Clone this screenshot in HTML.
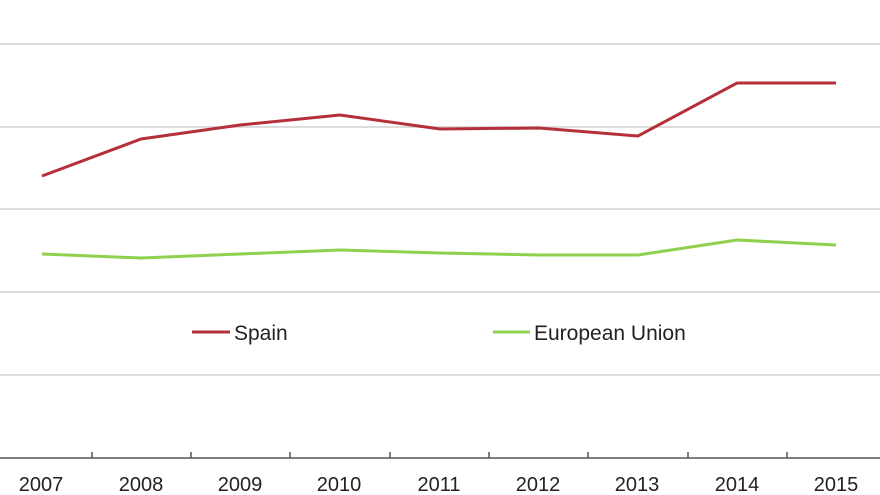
<!DOCTYPE html>
<html><head><style>body{margin:0;background:#fff}svg{display:block}</style></head><body>
<svg width="880" height="495" xmlns="http://www.w3.org/2000/svg" font-family="Liberation Sans, sans-serif">
<g stroke="#dcdcdc" stroke-width="2">
<line x1="0" y1="44" x2="880" y2="44"/><line x1="0" y1="127" x2="880" y2="127"/>
<line x1="0" y1="209" x2="880" y2="209"/><line x1="0" y1="292" x2="880" y2="292"/>
<line x1="0" y1="375" x2="880" y2="375"/></g>
<line x1="0" y1="458" x2="880" y2="458" stroke="#555" stroke-width="1.5"/>
<g stroke="#555" stroke-width="1.5">
<line x1="92" y1="452" x2="92" y2="458"/><line x1="191" y1="452" x2="191" y2="458"/><line x1="290" y1="452" x2="290" y2="458"/><line x1="390" y1="452" x2="390" y2="458"/><line x1="489" y1="452" x2="489" y2="458"/><line x1="588" y1="452" x2="588" y2="458"/><line x1="688" y1="452" x2="688" y2="458"/><line x1="787" y1="452" x2="787" y2="458"/></g>
<g font-size="20" fill="#222" text-anchor="middle">
<text x="41" y="491">2007</text><text x="141" y="491">2008</text><text x="240" y="491">2009</text><text x="339" y="491">2010</text><text x="439" y="491">2011</text><text x="538" y="491">2012</text><text x="637" y="491">2013</text><text x="737" y="491">2014</text><text x="836" y="491">2015</text></g>
<polyline fill="none" stroke="#b5303a" stroke-width="3" points="42,176 141,139 240,125 340,115 440,129 539,128 638,136 737,83 836,83"/>
<polyline fill="none" stroke="#8fd14f" stroke-width="3" points="42,254 141,258 240,254 340,250 440,253 539,255 638,255 737,240 836,245"/>
<line x1="192" y1="332" x2="230" y2="332" stroke="#b5303a" stroke-width="3"/>
<text x="234" y="340" font-size="21" fill="#222">Spain</text>
<line x1="493" y1="332" x2="530" y2="332" stroke="#8fd14f" stroke-width="3"/>
<text x="534" y="340" font-size="21" fill="#222">European Union</text>
</svg></body></html>
